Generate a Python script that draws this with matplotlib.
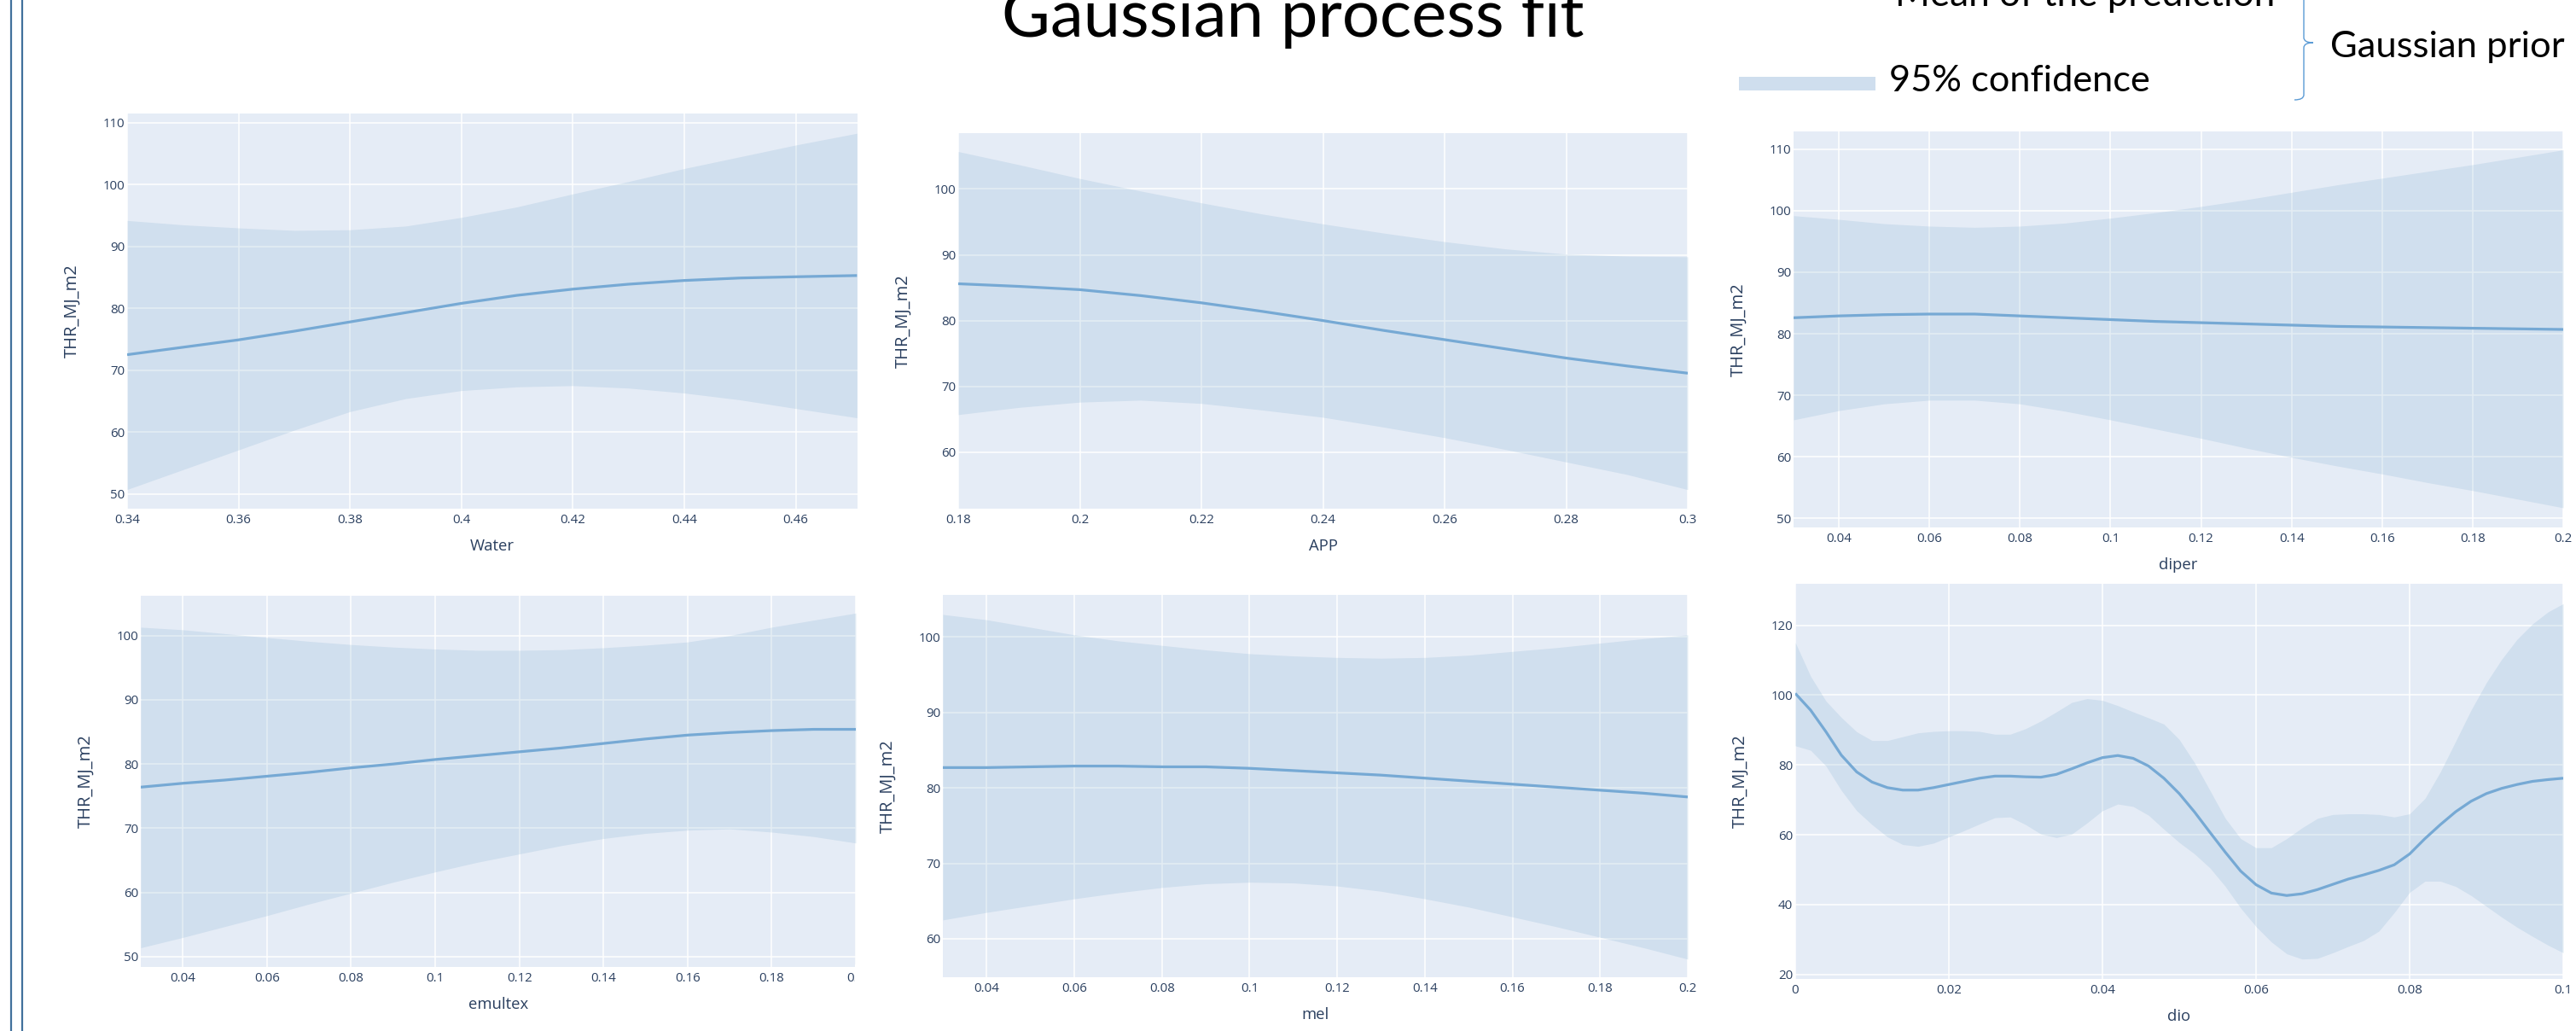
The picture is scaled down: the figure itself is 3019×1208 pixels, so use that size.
import matplotlib
matplotlib.use('Agg')
import matplotlib.pyplot as plt
from matplotlib.lines import Line2D
from matplotlib.patches import Rectangle, PathPatch
from matplotlib.path import Path
from matplotlib.ticker import FuncFormatter

plt.rcParams['font.family'] = ['Open Sans', 'DejaVu Sans']

# ---- data ----
water_x = [0.34, 0.35, 0.36, 0.37, 0.38, 0.39, 0.40, 0.41, 0.42, 0.43, 0.44, 0.45, 0.46, 0.471]
water_mean = [72.5, 73.7, 74.9, 76.3, 77.8, 79.3, 80.8, 82.1, 83.1, 83.9, 84.5, 84.9, 85.1, 85.3]
water_hi = [94.2, 93.5, 93.0, 92.6, 92.7, 93.3, 94.7, 96.4, 98.5, 100.5, 102.6, 104.5, 106.4, 108.3]
water_lo = [50.7, 53.9, 57.1, 60.3, 63.3, 65.4, 66.7, 67.3, 67.5, 67.1, 66.3, 65.2, 63.8, 62.3]

app_x = [0.18, 0.19, 0.20, 0.21, 0.22, 0.23, 0.24, 0.25, 0.26, 0.27, 0.28, 0.29, 0.30]
app_mean = [85.6, 85.2, 84.7, 83.8, 82.7, 81.4, 80.0, 78.5, 77.1, 75.7, 74.3, 73.1, 72.0]
app_hi = [105.7, 103.7, 101.6, 99.7, 97.9, 96.2, 94.7, 93.3, 92.0, 90.9, 90.1, 89.8, 89.7]
app_lo = [65.7, 66.8, 67.6, 67.9, 67.4, 66.4, 65.3, 63.8, 62.2, 60.4, 58.5, 56.6, 54.3]

frac_x = [0.03, 0.04, 0.05, 0.06, 0.07, 0.08, 0.09, 0.10, 0.11, 0.12,
          0.13, 0.14, 0.15, 0.16, 0.17, 0.18, 0.19, 0.20]

diper_mean = [82.6, 82.9, 83.1, 83.2, 83.2, 82.9, 82.6, 82.3, 82.0, 81.8,
              81.6, 81.4, 81.2, 81.1, 81.0, 80.9, 80.8, 80.7]
diper_hi = [99.2, 98.6, 97.9, 97.5, 97.3, 97.5, 98.0, 98.8, 99.7, 100.7,
            101.8, 103.0, 104.2, 105.3, 106.4, 107.5, 108.7, 109.9]
diper_lo = [66.0, 67.5, 68.6, 69.2, 69.2, 68.6, 67.4, 66.0, 64.5, 63.0,
            61.4, 59.9, 58.5, 57.2, 55.8, 54.5, 53.1, 51.7]

emultex_mean = [76.4, 77.0, 77.5, 78.1, 78.7, 79.4, 80.0, 80.7, 81.3, 81.9,
                82.5, 83.2, 83.9, 84.5, 84.9, 85.2, 85.4, 85.4]
emultex_hi = [101.3, 100.9, 100.3, 99.7, 99.1, 98.6, 98.2, 97.9, 97.7, 97.7,
              97.8, 98.1, 98.5, 99.0, 100.0, 101.3, 102.4, 103.5]
emultex_lo = [51.4, 53.0, 54.7, 56.4, 58.2, 59.9, 61.6, 63.2, 64.7, 66.0,
              67.3, 68.4, 69.2, 69.7, 69.9, 69.4, 68.7, 67.7]

mel_mean = [82.7, 82.7, 82.8, 82.9, 82.9, 82.8, 82.8, 82.6, 82.3, 82.0,
            81.7, 81.3, 80.9, 80.5, 80.1, 79.7, 79.3, 78.8]
mel_hi = [103.0, 102.3, 101.3, 100.3, 99.5, 98.9, 98.3, 97.8, 97.5, 97.3,
          97.2, 97.3, 97.6, 98.1, 98.6, 99.2, 99.8, 100.3]
mel_lo = [62.5, 63.5, 64.4, 65.3, 66.1, 66.8, 67.3, 67.5, 67.4, 67.0,
          66.3, 65.3, 64.2, 62.9, 61.6, 60.2, 58.8, 57.3]

dio_x = [0.000, 0.002, 0.004, 0.006, 0.008, 0.010, 0.012, 0.014, 0.016, 0.018,
         0.020, 0.022, 0.024, 0.026, 0.028, 0.030, 0.032, 0.034, 0.036, 0.038,
         0.040, 0.042, 0.044, 0.046, 0.048, 0.050, 0.052, 0.054, 0.056, 0.058,
         0.060, 0.062, 0.064, 0.066, 0.068, 0.070, 0.072, 0.074, 0.076, 0.078,
         0.080, 0.082, 0.084, 0.086, 0.088, 0.090, 0.092, 0.094, 0.096, 0.098, 0.100]
dio_mean = [100.5, 95.7, 89.5, 82.8, 78.0, 75.1, 73.5, 72.8, 72.8, 73.5,
            74.4, 75.3, 76.2, 76.8, 76.8, 76.6, 76.5, 77.3, 78.9, 80.6,
            82.1, 82.7, 81.9, 79.7, 76.2, 71.8, 66.5, 60.7, 55.0, 49.6,
            45.7, 43.3, 42.6, 43.1, 44.3, 45.8, 47.3, 48.5, 49.8, 51.4,
            54.5, 58.9, 62.9, 66.6, 69.6, 71.8, 73.3, 74.4, 75.3, 75.8, 76.2]
dio_hi = [115.1, 105.4, 98.3, 93.6, 89.5, 87.0, 87.0, 88.1, 89.2, 89.6,
          89.8, 89.8, 89.6, 88.8, 88.8, 90.4, 92.6, 95.2, 97.9, 99.0,
          98.5, 97.0, 95.2, 93.5, 91.7, 87.3, 80.6, 72.7, 64.7, 58.9,
          56.3, 56.3, 58.9, 62.0, 64.7, 65.8, 66.0, 66.0, 65.8, 65.1,
          66.0, 70.4, 78.0, 86.8, 95.7, 103.6, 110.3, 116.0, 120.4, 123.8, 126.2]
dio_lo = [85.5, 84.2, 79.7, 72.7, 66.9, 62.9, 59.4, 57.2, 56.7, 57.6,
          59.4, 61.2, 63.1, 64.9, 65.1, 62.9, 60.2, 59.2, 60.2, 63.4,
          66.9, 68.8, 68.1, 65.6, 61.6, 57.8, 54.5, 50.5, 45.2, 39.0,
          33.7, 29.3, 25.9, 24.4, 24.6, 26.2, 28.0, 29.7, 32.4, 37.7,
          43.5, 46.7, 46.7, 45.2, 42.6, 39.5, 36.4, 33.5, 30.9, 28.4, 26.2]

water_ticks = [0.34, 0.36, 0.38, 0.40, 0.42, 0.44, 0.46]
app_ticks = [0.18, 0.20, 0.22, 0.24, 0.26, 0.28, 0.30]
frac_ticks = [0.04, 0.06, 0.08, 0.10, 0.12, 0.14, 0.16, 0.18, 0.20]
dio_ticks = [0, 0.02, 0.04, 0.06, 0.08, 0.10]

W, H = 3019, 1208
BG = '#e5ecf6'
LINE = '#76a9d4'
FILL = '#7cabce'
FONT_COL = '#2a3f5f'

fig = plt.figure(figsize=(W / 100, H / 100), dpi=100)
fig.patch.set_facecolor('white')


def fx(x):
    return x / W


def fy(y):
    return 1 - y / H


# name, x, mean, lo, hi, box (left, top, right, bottom px), xlim, ylim, xticks, yticks
paneles = [
    ('Water', water_x, water_mean, water_lo, water_hi, (149, 133, 1005, 596),
     (0.34, 0.4711), (47.6, 111.5), water_ticks, [50, 60, 70, 80, 90, 100, 110]),
    ('APP', app_x, app_mean, app_lo, app_hi, (1123, 156, 1978, 596),
     (0.18, 0.30), (51.4, 108.5), app_ticks, [60, 70, 80, 90, 100]),
    ('diper', frac_x, diper_mean, diper_lo, diper_hi, (2102, 154, 3004, 618),
     (0.03, 0.20), (48.5, 112.9), frac_ticks, [50, 60, 70, 80, 90, 100, 110]),
    ('emultex', frac_x, emultex_mean, emultex_lo, emultex_hi, (165, 698, 1003, 1133),
     (0.03, 0.20), (48.4, 106.2), frac_ticks, [50, 60, 70, 80, 90, 100]),
    ('mel', frac_x, mel_mean, mel_lo, mel_hi, (1105, 697, 1978, 1145),
     (0.03, 0.20), (54.9, 105.6), frac_ticks, [60, 70, 80, 90, 100]),
    ('dio', dio_x, dio_mean, dio_lo, dio_hi, (2104, 684, 3004, 1147),
     (0.0, 0.10), (18.7, 131.9), dio_ticks, [20, 40, 60, 80, 100, 120]),
]

for nombre, xs, media, bajo, alto, (l, t, r, b), xlim, ylim, xt, yt in paneles:
    ax = fig.add_axes([fx(l), fy(b), (r - l) / W, (b - t) / H])
    ax.set_facecolor(BG)
    ax.fill_between(xs, bajo, alto, color=FILL, alpha=0.2, linewidth=0)
    ax.plot(xs, media, color=LINE, linewidth=2.3, solid_capstyle='butt')
    ax.set_xlim(*xlim)
    ax.set_ylim(*ylim)
    ax.set_xticks(xt)
    ax.set_yticks(yt)
    ax.xaxis.set_major_formatter(FuncFormatter(lambda v, p: f'{v:g}'))
    ax.set_axisbelow(True)
    ax.grid(color='white', linewidth=1.1)
    ax.tick_params(length=0, labelsize=10.8, labelcolor=FONT_COL, pad=4)
    ax.tick_params(axis='y', pad=2)
    for s in ax.spines.values():
        s.set_visible(False)
    ax.set_xlabel(nombre, fontsize=13.3, color=FONT_COL, va='center')
    ax.xaxis.set_label_coords(0.5, -44 / (b - t))
    ax.set_ylabel('THR_MJ_m2', fontsize=14.5, color=FONT_COL, va='center')
    ax.yaxis.set_label_coords(-64 / (r - l), 0.5)

# the emultex panel is cropped right at its last tick label
fig.add_artist(Rectangle((fx(1002), fy(1165)), 30 / W, 35 / H, transform=fig.transFigure,
                         facecolor='white', edgecolor='none', zorder=10))

# slide border lines
for xb in (12.5, 26.5):
    fig.add_artist(Line2D([fx(xb), fx(xb)], [0, 1], transform=fig.transFigure,
                          color='#41719c', linewidth=1.6))

renderer = fig.canvas.get_renderer()


def texto_ajustado(x, y, s, ancho, size0):
    t = fig.text(fx(x), fy(y), s, fontsize=size0, family='Lato', color='black',
                 ha='left', va='baseline')
    w = t.get_window_extent(renderer).width
    t.set_fontsize(size0 * ancho / w)
    return t


texto_ajustado(1174, 43, 'Gaussian process fit', 684, 60)
texto_ajustado(2221, 7, 'Mean of the prediction', 445, 32)
texto_ajustado(2214, 107, '95% confidence', 306, 32)
texto_ajustado(2731, 67, 'Gaussian prior', 274, 32)

# legend swatch for the confidence band
fig.add_artist(Rectangle((fx(2038), fy(106)), 160 / W, 16 / H, transform=fig.transFigure,
                         facecolor='#cfdeee', edgecolor='none'))

# curly brace
pts = [(2700, -5), (2700, 44), (2700, 50), (2711, 50), (2700, 50), (2700, 56),
       (2700, 111), (2700, 117), (2689, 117)]
codes = [Path.MOVETO, Path.LINETO, Path.CURVE3, Path.CURVE3, Path.CURVE3, Path.CURVE3,
         Path.LINETO, Path.CURVE3, Path.CURVE3]
brace = Path([(fx(x), fy(y)) for x, y in pts], codes)
fig.add_artist(PathPatch(brace, transform=fig.transFigure, fill=False,
                         edgecolor='#5b9bd5', linewidth=1.0))

fig.savefig('out.png', dpi=100)
plt.close(fig)
